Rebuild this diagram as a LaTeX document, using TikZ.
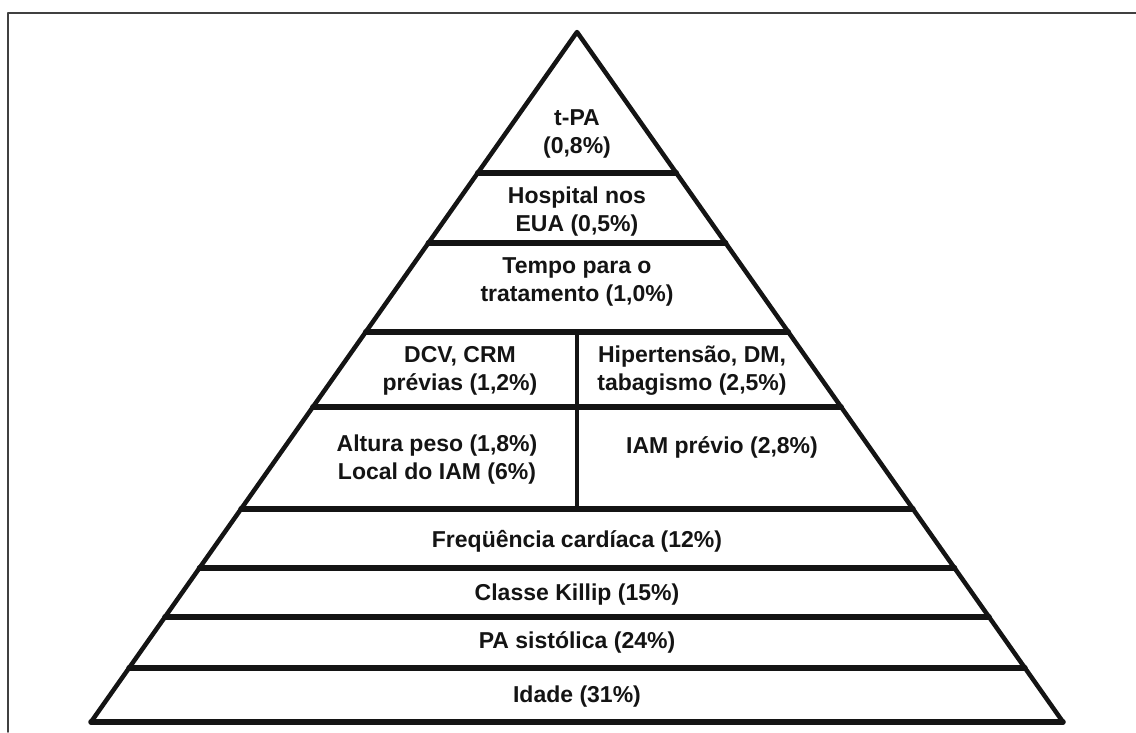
\documentclass[tikz,border=0pt]{standalone}
\usepackage{fontspec}
\setmainfont{Liberation Sans}
\usepackage{tikz}

\tikzset{
  rank/.style={font=\bfseries\fontsize{23}{28}\selectfont,align=center,text=black!92},
  tier/.style={line width=5.5pt,color=black!92},
  side/.style={line width=4.5pt,color=black!92}
}

\begin{document}
\begin{tikzpicture}[line cap=round,line join=round,x=1pt,y=-1pt]
\useasboundingbox (0,0) rectangle (1136,732);
% frame of the page
\draw [color=black!75,line width=1.6pt] (8,732) -- (8,13) -- (1136,13);
% pyramid
\draw [side] (91,722) -- (577,32) -- (1063,722);
\foreach \y in {173,243,332,407,509,568,617,668,722}
  \draw [tier] ({577-0.70435*(\y-32)},\y) -- ({577+0.70435*(\y-32)},\y);
\draw [color=black!92,line width=3.5pt] (577,332) -- (577,509);
% labels
\node [rank] (tpa) at (577,134) {t-PA\\(0,8\%)};
\node [rank] (hosp) at (577,212) {Hospital nos\\EUA (0,5\%)};
\node [rank] (tempo) at (577,282) {Tempo para o\\tratamento (1,0\%)};
\node [rank] (dcv) at (460,371) {DCV, CRM\\prévias (1,2\%)};
\node [rank] (hiper) at (692,371) {Hipertensão, DM,\\tabagismo (2,5\%)};
\node [rank] (altura) at (437,460) {Altura peso (1,8\%)\\Local do IAM (6\%)};
\node [rank] (iam) at (722,447) {IAM prévio (2,8\%)};
\node [rank] (freq) at (577,541) {Freqüência cardíaca (12\%)};
\node [rank] (killip) at (577,595) {Classe Killip (15\%)};
\node [rank] (pas) at (577,642) {PA sistólica (24\%)};
\node [rank] (idade) at (577,697) {Idade (31\%)};
\end{tikzpicture}
\end{document}
